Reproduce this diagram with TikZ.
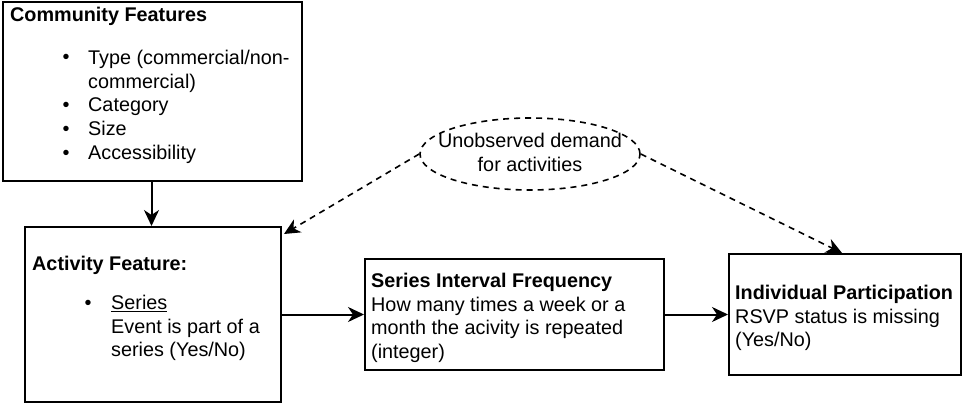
\documentclass[tikz,border=0pt]{standalone}
\usepackage{fontspec}
\setmainfont{Liberation Sans}
\usetikzlibrary{arrows.meta,shapes.geometric,calc}
\begin{document}
\begin{tikzpicture}[x=1pt,y=-1pt,
  box/.style={draw,line width=2pt,rectangle,inner sep=0pt},
  txt/.style={inner sep=0pt,align=left,font=\fontsize{19.8}{23.8}\selectfont},
  arr/.style={line width=2pt,-{Stealth[length=16pt,width=15pt,inset=5pt]}},
  darr/.style={line width=1.6pt,dash pattern=on 6pt off 5pt,-{Stealth[length=16pt,width=15pt,inset=5pt]}}
]
\useasboundingbox (0,0) rectangle (962,404);
% boxes
\node[box,minimum width=299pt,minimum height=179pt] (cf) at (152.5,91.5) {};
\node[box,minimum width=256pt,minimum height=175pt] (af) at (153,314.5) {};
\node[box,minimum width=299pt,minimum height=111pt] (sif) at (514.5,314.5) {};
\node[box,minimum width=232pt,minimum height=121pt] (ip) at (845,314.5) {};
\node[draw,ellipse,line width=1.6pt,dash pattern=on 6pt off 5pt,minimum width=220pt,minimum height=72pt,inner sep=0pt] (ell) at (530,154) {};
% community text
\node[txt,anchor=north west] (cft) at (10,21-16.66) {\strut\textbf{Community Features}};
\node[txt,anchor=north west] (cfl) at (88,64-16.66) {\strut Type (commercial/non-\\commercial)\\Category\\Size\\Accessibility};
\node[txt,anchor=base] (b1) at (66,64) {•};
\node[txt,anchor=base] (b2) at (66,111.6) {•};
\node[txt,anchor=base] (b3) at (66,135.4) {•};
\node[txt,anchor=base] (b4) at (66,159.2) {•};
% activity text
\node[txt,anchor=north west] (aft) at (32,270-16.66) {\strut\textbf{Activity Feature:}};
\node[txt,anchor=base] (b5) at (88,309) {•};
\node[txt,anchor=north west] (afl) at (111,309-16.66) {\strut\underline{Series}\\Event is part of a\\series (Yes/No)};
% series text
\node[txt,anchor=north west] (sift) at (371,287-16.66) {\strut\textbf{Series Interval Frequency}\\How many times a week or a\\month the acivity is repeated\\(integer)};
% individual text
\node[txt,anchor=north west] (ipt) at (735,299-16.66) {\strut\textbf{Individual Participation}\\RSVP status is missing\\(Yes/No)};
% ellipse text
\node[txt,align=center,anchor=north] (ellt) at (530,147-16.66) {\strut Unobserved demand\\for activities};
% connectors
\draw[arr] (cf.south -| 151.5,0) -- (af.north -| 151.5,0);
\draw[arr] (af.east) -- (sif.west);
\draw[arr] (sif.east) -- (ip.west);
\draw[darr] (ell.west) -- ($(af.north east)+(2,8)$);
\draw[darr] (ell.east) -- ($(ip.north)+(-3,0)$);
\end{tikzpicture}
\end{document}
